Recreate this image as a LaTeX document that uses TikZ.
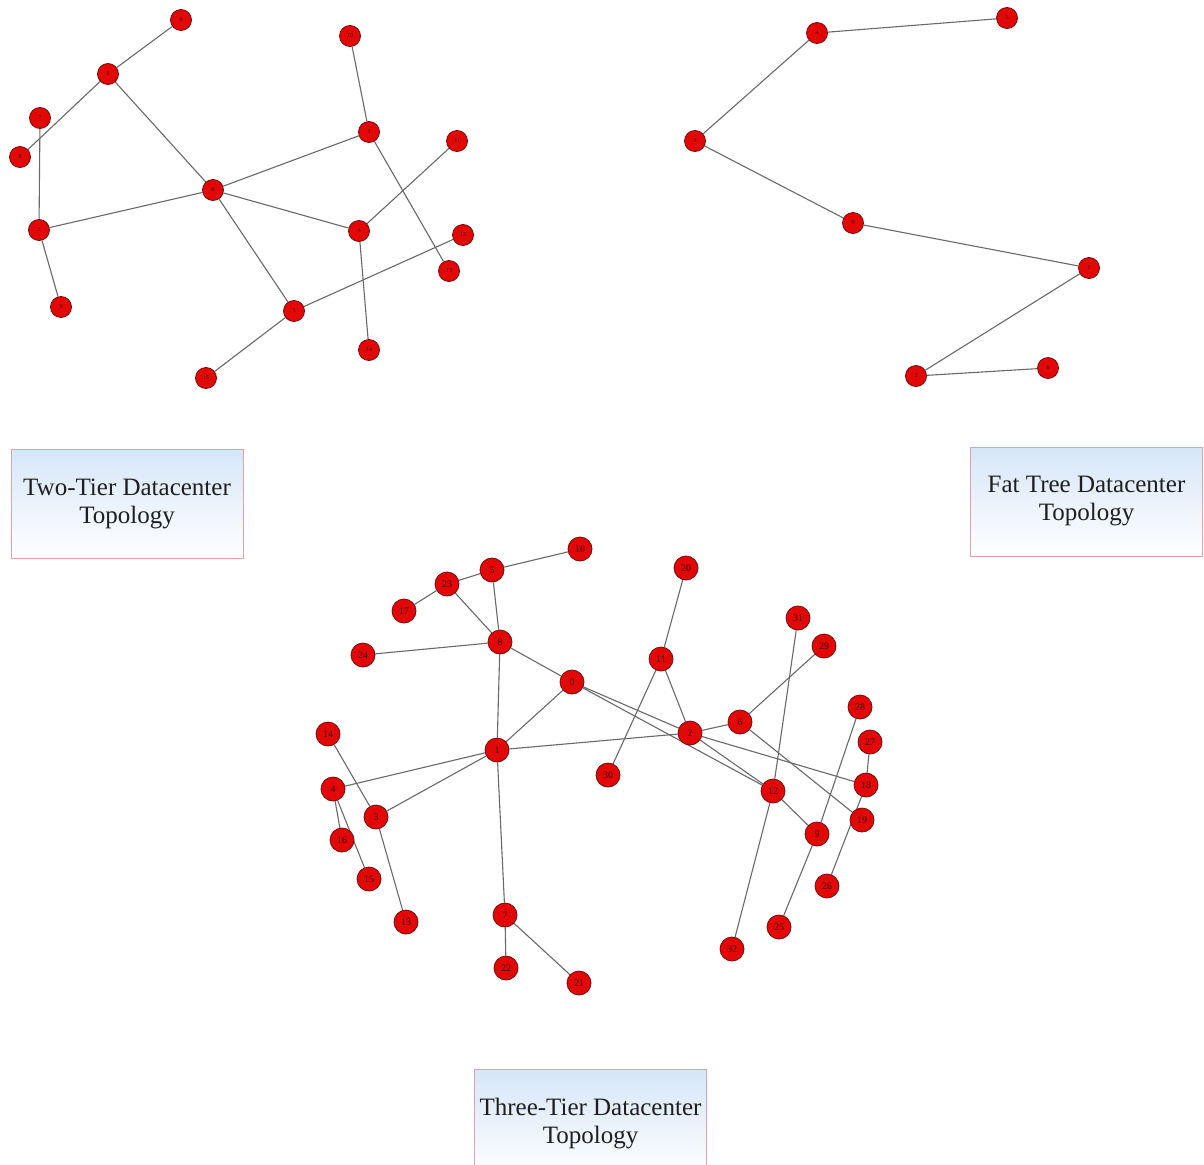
\documentclass[tikz,border=0pt]{standalone}
\usepackage{fontspec}
\setmainfont{Liberation Serif}
\usetikzlibrary{backgrounds}
\definecolor{nodered}{RGB}{226,8,8}
\definecolor{nodeedge}{RGB}{120,10,10}
\definecolor{edgegray}{RGB}{105,105,105}
\definecolor{boxblue}{RGB}{214,230,248}
\definecolor{boxedge}{RGB}{226,160,168}
\definecolor{labeltext}{RGB}{60,0,0}
\tikzset{
  nd/.style={circle, fill=nodered, draw=nodeedge, line width=0.8pt, inner sep=0pt,
    minimum size=21pt, font=\fontsize{6}{6}\selectfont, text=labeltext},
  bignd/.style={nd, minimum size=24pt, font=\fontsize{10}{10}\selectfont},
  ln/.style={draw=edgegray, line width=1.1pt},
  caption/.style={draw=boxedge, line width=1pt, top color=boxblue, bottom color=white,
    minimum width=232pt, minimum height=109pt, align=center,
    font=\fontsize{25}{28}\selectfont, text=black!88}
}
\begin{document}
\begin{tikzpicture}[x=1pt,y=-1pt]
\useasboundingbox (0,0) rectangle (1204,1164);
\begin{scope}[on background layer]
\fill[white] (0,0) rectangle (1204,1164);
\end{scope}

% ---------- two-tier topology ----------
\node[nd] (t6)  at (181,20)  {6};
\node[nd] (t1)  at (108,74)  {1};
\node[nd] (t7)  at (40,118)  {7};
\node[nd] (t8)  at (20,157)  {8};
\node[nd] (t2)  at (39,230)  {2};
\node[nd] (t9)  at (61,307)  {9};
\node[nd] (t0)  at (213,190) {0};
\node[nd] (t10) at (350,36)  {10};
\node[nd] (t3)  at (369,132) {3};
\node[nd] (t11) at (457,141) {11};
\node[nd] (t4)  at (359,231) {4};
\node[nd] (t12) at (463,235) {12};
\node[nd] (t13) at (449,271) {13};
\node[nd] (t5)  at (294,311) {5};
\node[nd] (t14) at (369,350) {14};
\node[nd] (t15) at (206,378) {15};

\begin{scope}[on background layer]
\draw[ln] (t6) -- (t1);
\draw[ln] (t1) -- (t8);
\draw[ln] (t1) -- (t0);
\draw[ln] (t7) -- (t2);
\draw[ln] (t2) -- (t9);
\draw[ln] (t2) -- (t0);
\draw[ln] (t0) -- (t3);
\draw[ln] (t10) -- (t3);
\draw[ln] (t3) -- (t13);
\draw[ln] (t11) -- (t4);
\draw[ln] (t0) -- (t4);
\draw[ln] (t4) -- (t14);
\draw[ln] (t0) -- (t5);
\draw[ln] (t5) -- (t12);
\draw[ln] (t5) -- (t15);
\end{scope}

% ---------- fat tree topology ----------
\node[nd] (f4) at (817,33)  {4};
\node[nd] (f5) at (1007,18) {5};
\node[nd] (f3) at (695,141) {3};
\node[nd] (f0) at (853,223) {0};
\node[nd] (f1) at (1089,268) {1};
\node[nd] (f2) at (916,376) {2};
\node[nd] (f6) at (1048,368) {6};

\begin{scope}[on background layer]
\draw[ln] (f4) -- (f5);
\draw[ln] (f4) -- (f3);
\draw[ln] (f3) -- (f0);
\draw[ln] (f0) -- (f1);
\draw[ln] (f1) -- (f2);
\draw[ln] (f2) -- (f6);
\end{scope}

% ---------- three-tier topology ----------
\node[bignd] (h10) at (580,549) {10};
\node[bignd] (h5)  at (492,570) {5};
\node[bignd] (h23) at (447,584) {23};
\node[bignd] (h17) at (404,611) {17};
\node[bignd] (h8)  at (500,642) {8};
\node[bignd] (h24) at (363,655) {24};
\node[bignd] (h0)  at (572,682) {0};
\node[bignd] (h20) at (686,568) {20};
\node[bignd] (h11) at (661,659) {11};
\node[bignd] (h31) at (798,618) {31};
\node[bignd] (h29) at (824,646) {29};
\node[bignd] (h28) at (860,707) {28};
\node[bignd] (h6)  at (740,722) {6};
\node[bignd] (h2)  at (690,733) {2};
\node[bignd] (h27) at (870,742) {27};
\node[bignd] (h14) at (328,734) {14};
\node[bignd] (h1)  at (497,750) {1};
\node[bignd] (h30) at (608,775) {30};
\node[bignd] (h4)  at (333,789) {4};
\node[bignd] (h18) at (866,785) {18};
\node[bignd] (h12) at (773,791) {12};
\node[bignd] (h3)  at (376,817) {3};
\node[bignd] (h16) at (342,840) {16};
\node[bignd] (h9)  at (817,834) {9};
\node[bignd] (h19) at (862,820) {19};
\node[bignd] (h15) at (369,879) {15};
\node[bignd] (h26) at (827,886) {26};
\node[bignd] (h13) at (406,922) {13};
\node[bignd] (h7)  at (505,915) {7};
\node[bignd] (h25) at (779,927) {25};
\node[bignd] (h32) at (732,949) {32};
\node[bignd] (h22) at (506,968) {22};
\node[bignd] (h21) at (579,983) {21};

\begin{scope}[on background layer]
\draw[ln] (h10) -- (h5);
\draw[ln] (h5) -- (h23);
\draw[ln] (h23) -- (h17);
\draw[ln] (h5) -- (h8);
\draw[ln] (h23) -- (h8);
\draw[ln] (h24) -- (h8);
\draw[ln] (h8) -- (h1);
\draw[ln] (h8) -- (h0);
\draw[ln] (h0) -- (h1);
\draw[ln] (h0) -- (h2);
\draw[ln] (h0) -- (h12);
\draw[ln] (h2) -- (h12);
\draw[ln] (h12) -- (h9);
\draw[ln] (h1) -- (h2);
\draw[ln] (h2) -- (h6);
\draw[ln] (h11) -- (h2);
\draw[ln] (h11) -- (h20);
\draw[ln] (h11) -- (h30);
\draw[ln] (h6) -- (h29);
\draw[ln] (h6) -- (h19);
\draw[ln] (h2) -- (h18);
\draw[ln] (h31) -- (h12);
\draw[ln] (h12) -- (h32);
\draw[ln] (h28) -- (h9);
\draw[ln] (h9) -- (h25);
\draw[ln] (h27) -- (h18);
\draw[ln] (h18) -- (h26);
\draw[ln] (h1) -- (h4);
\draw[ln] (h1) -- (h3);
\draw[ln] (h1) -- (h7);
\draw[ln] (h14) -- (h3);
\draw[ln] (h3) -- (h13);
\draw[ln] (h4) -- (h16);
\draw[ln] (h4) -- (h15);
\draw[ln] (h7) -- (h22);
\draw[ln] (h7) -- (h21);
\end{scope}

% ---------- captions ----------
\node[caption] (captwo)   at (127,503.5)   {Two-Tier Datacenter\\Topology};
\node[caption] (capfat)   at (1086.5,501.5) {Fat Tree Datacenter\\Topology};
\node[caption] (capthree) at (590.5,1124)  {Three-Tier Datacenter\\Topology};
\end{tikzpicture}
\end{document}
